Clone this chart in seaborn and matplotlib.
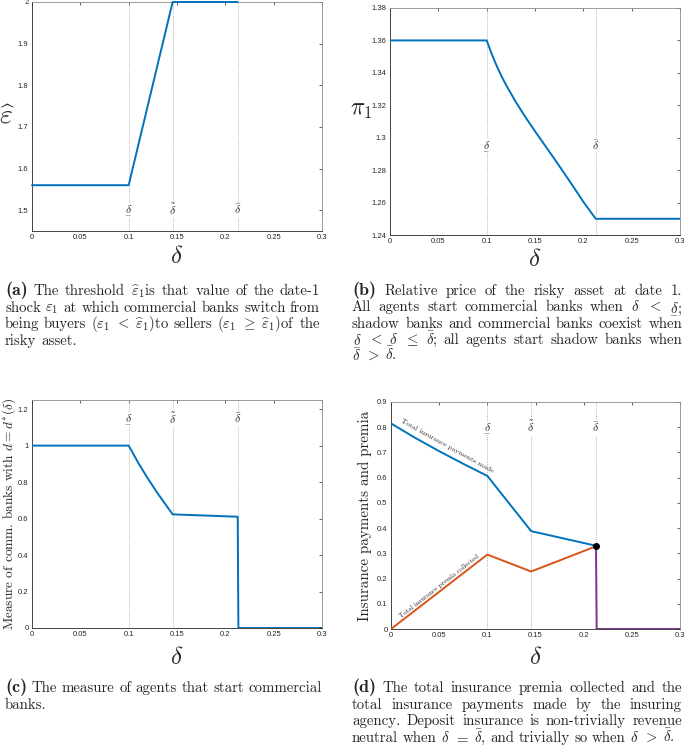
import re

import matplotlib
matplotlib.use("Agg")
import matplotlib.pyplot as plt
import seaborn as sns

# ---- data ------------------------------------------------------------------
thresholds = [0.1, 0.1455, 0.2128]          # delta_, delta~, delta-bar

eps_x = [0.0, 0.1, 0.1455, 0.2128]
eps_y = [1.56, 1.56, 2.0, 2.0]

pi_x = [0.0, 0.1, 0.105, 0.11, 0.115, 0.12, 0.13, 0.14, 0.15, 0.16, 0.17, 0.18,
        0.19, 0.2, 0.2128, 0.3]
pi_y = [1.36, 1.36, 1.352, 1.3448, 1.3384, 1.3326, 1.3222, 1.3128, 1.304, 1.2955,
        1.287, 1.2783, 1.2695, 1.2605, 1.25, 1.25]

cb_x = [0.0, 0.1, 0.11, 0.12, 0.13, 0.1455, 0.2128, 0.2135, 0.3]
cb_y = [1.0, 1.0, 0.905, 0.818, 0.738, 0.623, 0.61, 0.0, 0.0]

pay_x = [0.0, 0.025, 0.05, 0.075, 0.1, 0.1455, 0.2128]
pay_y = [0.815, 0.758, 0.705, 0.655, 0.607, 0.388, 0.33]

prem_x = [0.0, 0.1, 0.1455, 0.2128]
prem_y = [0.0, 0.295, 0.228, 0.328]

zero_x = [0.2128, 0.2135, 0.3]
zero_y = [0.328, 0.0, 0.0]

xticks = [0, 0.05, 0.1, 0.15, 0.2, 0.25, 0.3]
xticklabels = ["0", "0.05", "0.1", "0.15", "0.2", "0.25", "0.3"]

cap_a = [
    r"(a) The threshold $\widehat{\varepsilon}_1$is that value of the date-1",
    r"shock $\varepsilon_1$ at which commercial banks switch from",
    r"being buyers $(\varepsilon_1$ $<$ $\widehat{\varepsilon}_1)$to sellers $(\varepsilon_1$ $\geq$ $\widehat{\varepsilon}_1)$of the",
    r"risky asset.",
]
cap_b = [
    r"(b) Relative price of the risky asset at date 1.",
    r"All agents start commercial banks when $\delta$ $<$ $\underset{-}{\delta}$;",
    r"shadow banks and commercial banks coexist when",
    r"$\underset{-}{\delta}$ $<$ $\delta$ $\leq$ $\bar{\delta}$; all agents start shadow banks when",
    r"$\delta$ $>$ $\bar{\delta}$.",
]
cap_c = [
    r"(c) The measure of agents that start commercial",
    r"banks.",
]
cap_d = [
    r"(d) The total insurance premia collected and the",
    r"total insurance payments made by the insuring",
    r"agency. Deposit insurance is non-trivially revenue",
    r"neutral when $\delta$ $=$ $\bar{\delta}$, and trivially so when $\delta$ $>$ $\bar{\delta}$.",
]

# ---- style -------------------------------------------------------------------
sns.set_theme(style="white")
plt.rcParams["font.family"] = ["Liberation Sans", "DejaVu Sans"]
plt.rcParams["mathtext.fontset"] = "cm"

BLUE = "#0072BD"
ORANGE = "#D95319"
PURPLE = "#7E2F8E"
AX_COL = "#262626"

W, H = 685, 751
fig = plt.figure(figsize=(W / 100, H / 100), dpi=100)


def px_axes(left, top, right, bottom):
    return fig.add_axes([left / W, 1 - bottom / H, (right - left) / W, (bottom - top) / H])


def style_axes(ax, ylim, yticks, yticklabels):
    ax.set_xlim(0, 0.3)
    ax.set_ylim(*ylim)
    ax.set_xticks(xticks)
    ax.set_xticklabels(xticklabels)
    ax.set_yticks(yticks)
    ax.set_yticklabels(yticklabels)
    ax.tick_params(direction="in", length=2.5, width=0.5, top=True, right=True,
                   labelsize=5.5, colors=AX_COL, pad=2.5)
    for sp in ax.spines.values():
        sp.set_linewidth(0.6)
        sp.set_color("#8c8c8c")
    ax.spines["left"].set_color(AX_COL)
    ax.spines["bottom"].set_color(AX_COL)
    ax.set_xlabel(r"$\delta$", fontsize=18)


def delta_lines(ax, y, which=(0, 1, 2)):
    labels = [r"$\underset{-}{\delta}$", r"$\tilde{\delta}$", r"$\bar{\delta}$"]
    for i in which:
        ax.axvline(thresholds[i], color="#9a9a9a", ls=(0, (1, 1.5)), lw=0.6, zorder=1)
        ax.text(thresholds[i], y, labels[i], ha="center", va="center", fontsize=8.5,
                bbox=dict(fc="white", ec="none", pad=0.5), zorder=2)


# (a) threshold epsilon-hat
ax_a = px_axes(32, 2, 322, 231)
sns.lineplot(x=eps_x, y=eps_y, ax=ax_a, color=BLUE, lw=1.4, estimator=None, sort=False,
             zorder=3, clip_on=False)
style_axes(ax_a, (1.45, 2.0), [1.5, 1.6, 1.7, 1.8, 1.9, 2.0],
           ["1.5", "1.6", "1.7", "1.8", "1.9", "2"])
delta_lines(ax_a, 1.5)
ax_a.set_ylabel(r"$\widehat{\varepsilon}$", fontsize=20, rotation=0, va="center", ha="center")
ax_a.yaxis.set_label_coords(-0.085, 0.5)
ax_a.xaxis.set_label_coords(0.5, -0.055)

# (b) price pi_1
ax_b = px_axes(390, 8, 680, 235)
sns.lineplot(x=pi_x, y=pi_y, ax=ax_b, color=BLUE, lw=1.4, estimator=None, sort=False, zorder=3)
style_axes(ax_b, (1.24, 1.38), [1.24, 1.26, 1.28, 1.30, 1.32, 1.34, 1.36, 1.38],
           ["1.24", "1.26", "1.28", "1.3", "1.32", "1.34", "1.36", "1.38"])
delta_lines(ax_b, 1.295, which=(0, 2))
ax_b.set_ylabel(r"$\pi_1$", fontsize=17, rotation=0, va="center", ha="center")
ax_b.yaxis.set_label_coords(-0.10, 0.55)
ax_b.xaxis.set_label_coords(0.5, -0.055)

# (c) measure of commercial banks
ax_c = px_axes(32, 400, 322, 628)
sns.lineplot(x=cb_x, y=cb_y, ax=ax_c, color=BLUE, lw=1.4, estimator=None, sort=False, zorder=3)
style_axes(ax_c, (0, 1.25), [0, 0.2, 0.4, 0.6, 0.8, 1.0, 1.2],
           ["0", "0.2", "0.4", "0.6", "0.8", "1", "1.2"])
delta_lines(ax_c, 1.145)
ax_c.set_ylabel(r"Measure of comm. banks with $d=d^{*}(\delta)$", fontsize=9.6,
                family="cmr10")
ax_c.yaxis.set_label_coords(-0.048, 0.5)
ax_c.xaxis.set_label_coords(0.5, -0.075)

# (d) insurance payments and premia
ax_d = px_axes(391, 402, 680, 629)
sns.lineplot(x=pay_x, y=pay_y, ax=ax_d, color=BLUE, lw=1.4, estimator=None, sort=False, zorder=3)
sns.lineplot(x=prem_x, y=prem_y, ax=ax_d, color=ORANGE, lw=1.4, estimator=None, sort=False, zorder=3)
sns.lineplot(x=zero_x, y=zero_y, ax=ax_d, color=PURPLE, lw=1.4, estimator=None, sort=False, zorder=3)
ax_d.plot([pay_x[-1]], [pay_y[-1]], "o", color="black", ms=4, zorder=4)
style_axes(ax_d, (0, 0.9), [0, 0.1, 0.2, 0.3, 0.4, 0.5, 0.6, 0.7, 0.8, 0.9],
           ["0", "0.1", "0.2", "0.3", "0.4", "0.5", "0.6", "0.7", "0.8", "0.9"])
delta_lines(ax_d, 0.797)
ax_d.text(0.0095, 0.815, "Total insurance payments made", family="cmr10", fontsize=5.4,
          rotation=-29, rotation_mode="anchor", ha="left", va="bottom")
ax_d.text(0.011, 0.04, "Total insurance premia collected", family="cmr10", fontsize=5.0,
          rotation=38, rotation_mode="anchor", ha="left", va="bottom")
ax_d.set_ylabel("Insurance payments and premia", fontsize=10.8, family="cmr10")
ax_d.yaxis.set_label_coords(-0.066, 0.5)
ax_d.xaxis.set_label_coords(0.5, -0.07)


# ---- justified captions -------------------------------------------------------
def caption(lines, x0, x1, base0, step):
    rend = fig.canvas.get_renderer()
    for i, line in enumerate(lines):
        y = 1 - (base0 + i * step) / H
        arts = []
        for w in line.split():
            if re.fullmatch(r"\([a-d]\)", w):
                t = fig.text(0, y, w, va="baseline", family="cmb10", fontsize=13)
            else:
                t = fig.text(0, y, w, va="baseline", family="cmr10", fontsize=10.7)
            arts.append(t)
        widths = [a.get_window_extent(rend).width for a in arts]
        if i == len(lines) - 1 or len(arts) == 1:
            gap = 4.5
        else:
            gap = (x1 - x0 - sum(widths)) / (len(arts) - 1)
        x = x0
        for a, wd in zip(arts, widths):
            a.set_x(x / W)
            x += wd + gap


caption(cap_a, 5, 320, 295, 16.7)
caption(cap_b, 352, 682, 295, 16.3)
caption(cap_c, 5, 322, 692, 16.7)
caption(cap_d, 352, 682, 692, 16.7)

fig.savefig("out.png", dpi=100)
